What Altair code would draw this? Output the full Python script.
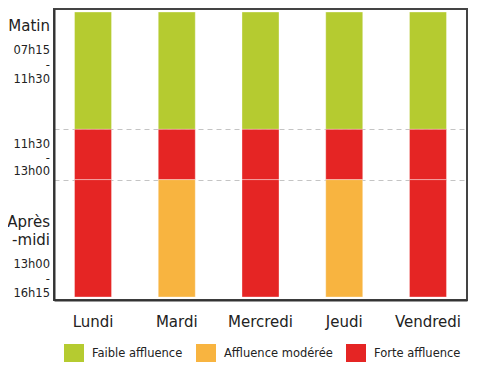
import altair as alt
import pandas as pd

# ---- data ----
jours = ["Lundi", "Mardi", "Mercredi", "Jeudi", "Vendredi"]
creneaux = ["07h15 - 11h30", "11h30 - 13h00", "13h00 - 16h15"]
hauteurs = [7, 3, 7]  # relative heights of the three time slots
niveaux = ["Faible affluence", "Affluence modérée", "Forte affluence"]
couleurs = ["#b5cb30", "#f8b440", "#e52524"]
affluence = {
    "Lundi": ["Faible affluence", "Forte affluence", "Forte affluence"],
    "Mardi": ["Faible affluence", "Forte affluence", "Affluence modérée"],
    "Mercredi": ["Faible affluence", "Forte affluence", "Forte affluence"],
    "Jeudi": ["Faible affluence", "Forte affluence", "Affluence modérée"],
    "Vendredi": ["Faible affluence", "Forte affluence", "Forte affluence"],
}
etiquettes_matin = ["Matin", "07h15\n-\n11h30"]
etiquettes_midi = ["11h30\n-\n13h00"]
etiquettes_am = ["Après\n-midi", "13h00\n-\n16h15"]

# ---- build tables ----
bornes = [0]
for h in hauteurs:
    bornes.append(bornes[-1] + h)

rows = []
for j in jours:
    for i, c in enumerate(creneaux):
        rows.append({"jour": j, "creneau": c, "debut": bornes[i], "fin": bornes[i + 1],
                     "niveau": affluence[j][i]})
df = pd.DataFrame(rows)

pad = 0.179
yscale = alt.Scale(domain=[bornes[0] - pad, bornes[-1] + pad], reverse=True, nice=False, zero=False)

bars = alt.Chart(df).mark_bar(stroke="white", strokeOpacity=0.35, strokeWidth=1).encode(
    x=alt.X("jour:N", sort=jours,
            scale=alt.Scale(paddingInner=0.558, paddingOuter=0.245),
            axis=alt.Axis(title=None, labelAngle=0, labelFontSize=15, labelColor="#222",
                          labelFont="DejaVu Sans", ticks=False, labelPadding=14,
                          domainColor="#333", domainWidth=2)),
    y=alt.Y("debut:Q", scale=yscale,
            axis=alt.Axis(title=None, labels=False, ticks=False, values=bornes[1:3],
                          grid=True, gridDash=[5, 4], gridColor="#c4c4c4", gridWidth=1,
                          domainColor="#333", domainWidth=2)),
    y2="fin:Q",
    color=alt.Color("niveau:N", scale=alt.Scale(domain=niveaux, range=couleurs),
                    legend=alt.Legend(title=None, orient="none", legendX=10, legendY=335,
                                      direction="horizontal", symbolType="square",
                                      symbolSize=400, symbolStrokeWidth=0,
                                      labelFontSize=11.5, labelFont="DejaVu Sans",
                                      labelColor="#222", labelOffset=8,
                                      columnPadding=13, padding=0)),
)


def label_layer(texts, yval, dy, size, lh):
    d = pd.DataFrame({"t": texts, "y": [yval] * len(texts)})
    return alt.Chart(d).mark_text(
        align="right", baseline="middle", dy=dy, fontSize=size, lineHeight=lh,
        lineBreak="\n", font="DejaVu Sans", color="#222"
    ).encode(x=alt.value(-4), y=alt.Y("y:Q", scale=yscale), text="t:N")


lab1 = label_layer([etiquettes_matin[0]], bornes[0], 13.5, 15, 18)
lab2 = label_layer([etiquettes_matin[1]], bornes[0], 39, 11.5, 14.5)
lab3 = label_layer(etiquettes_midi, (bornes[1] + bornes[2]) / 2, -9.5, 11.5, 13.5)
lab4 = label_layer([etiquettes_am[0]], bornes[3], -75, 15, 18)
lab5 = label_layer([etiquettes_am[1]], bornes[3], -31.5, 11.5, 14.5)

chart = alt.layer(bars, lab1, lab2, lab3, lab4, lab5).properties(
    width=413, height=291,
    autosize=alt.AutoSizeParams(type="none"),
    padding={"left": 46, "top": 1, "right": 10, "bottom": 62},
).configure_view(stroke="#444", strokeWidth=2).configure_axis(labelFont="DejaVu Sans")

chart.save("out.html", embed_options={"renderer": "svg", "actions": False})
